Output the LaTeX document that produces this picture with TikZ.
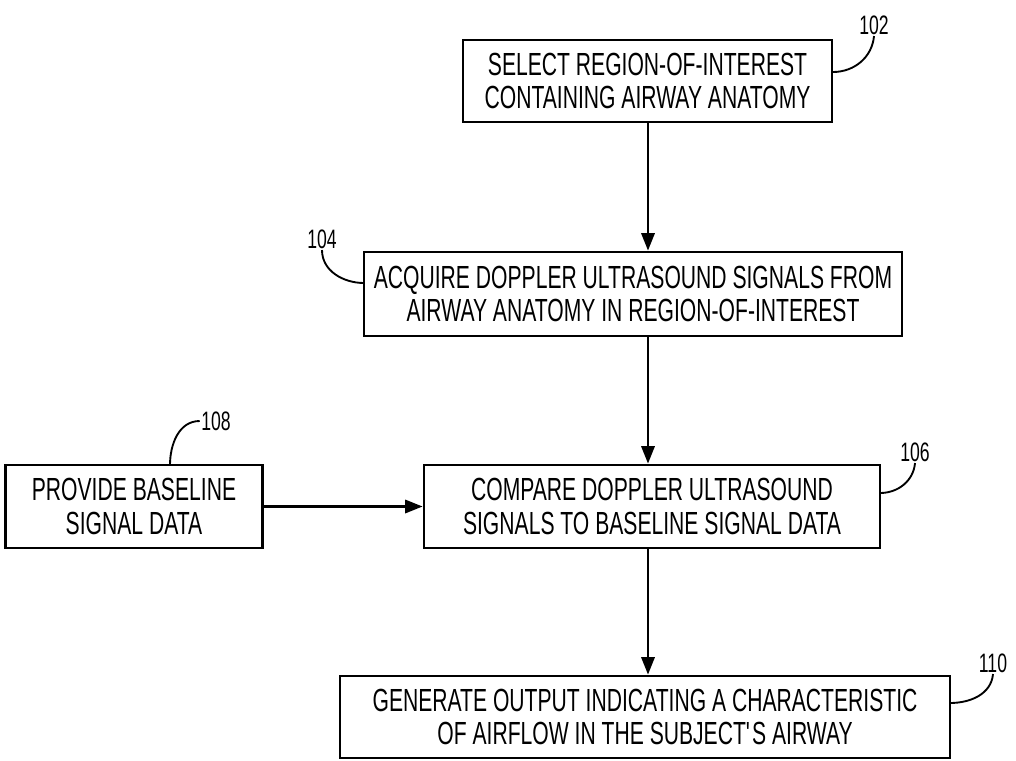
\documentclass[tikz,border=0pt]{standalone}
\usepackage{fontspec}
\setmainfont{Liberation Sans}[FakeStretch=0.66]
\usetikzlibrary{arrows.meta}
\begin{document}
\begin{tikzpicture}[x=0.75pt,y=-0.75pt,
  stepbox/.style={draw=black,line width=2.2pt,align=center,inner sep=0pt,
    font=\fontsize{24}{25}\selectfont},
  flow/.style={line width=1.6pt,-{Triangle[length=13pt,width=10pt]}},
  reflabel/.style={font=\fontsize{20}{22}\selectfont,inner sep=1pt},
  leader/.style={line width=1.4pt}]
\useasboundingbox (0,0) rectangle (1016,760);

% process steps
\node[stepbox,minimum width=369*0.75pt,minimum height=82*0.75pt] (s102) at (647.5,81)
  {SELECT REGION-OF-INTEREST\\CONTAINING AIRWAY ANATOMY};
\node[stepbox,minimum width=538*0.75pt,minimum height=84*0.75pt] (s104) at (633,294)
  {ACQUIRE DOPPLER ULTRASOUND SIGNALS FROM\\AIRWAY ANATOMY IN REGION-OF-INTEREST};
\node[stepbox,minimum width=257*0.75pt,minimum height=83*0.75pt] (s108) at (134,506.5)
  {PROVIDE BASELINE\\SIGNAL DATA};
\node[stepbox,minimum width=456*0.75pt,minimum height=83*0.75pt] (s106) at (652,506.5)
  {COMPARE DOPPLER ULTRASOUND\\SIGNALS TO BASELINE SIGNAL DATA};
\node[stepbox,minimum width=610*0.75pt,minimum height=82*0.75pt] (s110) at (645,717)
  {GENERATE OUTPUT INDICATING A CHARACTERISTIC\\OF AIRFLOW IN THE SUBJECT\textquotesingle S AIRWAY};

% flow arrows
\coordinate (c1) at (648,0);
\draw[flow] (c1 |- s102.south) -- (c1 |- s104.north);
\draw[flow] (c1 |- s104.south) -- (c1 |- s106.north);
\draw[flow] (c1 |- s106.south) -- (c1 |- s110.north);
\draw[flow] (s108.east) -- (s106.west);

% reference numerals
\node[reflabel] (l102) at (874,25) {102};
\node[reflabel] (l104) at (322,239) {104};
\node[reflabel] (l108) at (216,421) {108};
\node[reflabel] (l106) at (915,452) {106};
\node[reflabel] (l110) at (993,663) {110};

\coordinate (e102) at (833,72);
\coordinate (e104) at (364,283);
\coordinate (e108) at (170,465);
\coordinate (e106) at (880,493);
\coordinate (e110) at (950,703);
\draw[leader] (e102) to[out=0,in=-95] (l102.south);
\draw[leader] (e104) to[out=180,in=-90] (l104.south);
\draw[leader] (e108) to[out=90,in=180] (l108.west);
\draw[leader] (e106) to[out=0,in=-95] (l106.south);
\draw[leader] (e110) to[out=0,in=-95] (l110.south);
\end{tikzpicture}
\end{document}
